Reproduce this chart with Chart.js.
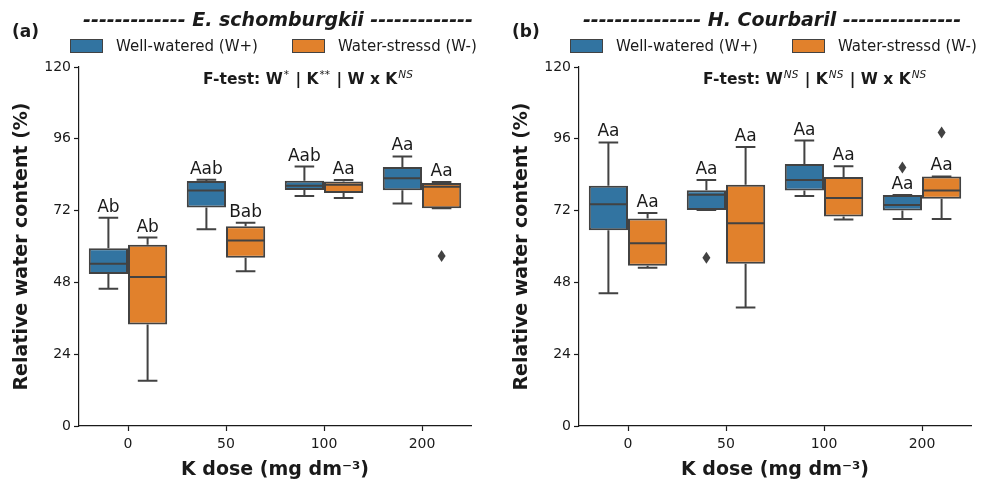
<!DOCTYPE html>
<html lang="en">
<head>
<meta charset="UTF-8">
<title>Relative water content by K dose</title>
<script src="https://cdn.jsdelivr.net/npm/chart.js"></script>
<style>
  body { margin: 0; background: #fff; }
  .panel { position: absolute; top: 0; height: 479px; }
  #panelA { left: 0; width: 500px; }
  #panelB { left: 500px; width: 481px; }
</style>
</head>
<body>
<div class="panel" id="panelA"><canvas id="chartA" width="500" height="479"></canvas></div>
<div class="panel" id="panelB"><canvas id="chartB" width="481" height="479"></canvas></div>
<script>
// categories and axis ticks
const kDoses = ['0', '50', '100', '200'];
const yTickValues = [0, 24, 48, 72, 96, 120];

// (a) E. schomburgkii - box stats
const wwLowA  = [45.9, 65.8, 76.9, 74.4];
const wwQ1A   = [50.8, 73.0, 78.9, 78.8];
const wwMedA  = [54.2, 78.7, 80.3, 82.8];
const wwQ3A   = [59.4, 81.9, 82.0, 86.6];
const wwHighA = [69.6, 82.3, 86.7, 90.1];
const wwOutA  = [[], [], [], []];
const wwLettersA = ['Ab', 'Aab', 'Aab', 'Aa'];

const wsLowA  = [15.1, 51.7, 76.2, 72.8];
const wsQ1A   = [33.9, 56.2, 77.9, 72.8];
const wsMedA  = [49.8, 62.0, 80.6, 80.0];
const wsQ3A   = [60.6, 66.8, 81.7, 81.2];
const wsHighA = [63.0, 67.9, 82.2, 81.6];
const wsOutA  = [[], [], [], [56.8]];
const wsLettersA = ['Ab', 'Bab', 'Aa', 'Aa'];

// (b) H. Courbaril
const wwLowB  = [44.4, 72.2, 76.9, 69.2];
const wwQ1B   = [65.4, 72.2, 78.7, 72.0];
const wwMedB  = [74.1, 77.3, 82.2, 73.9];
const wwQ3B   = [80.3, 78.8, 87.6, 77.2];
const wwHighB = [94.8, 82.2, 95.4, 77.2];
const wwOutB  = [[], [56.2], [], [86.4]];
const wwLettersB = ['Aa', 'Aa', 'Aa', 'Aa'];

const wsLowB  = [52.9, 39.6, 69.0, 69.2];
const wsQ1B   = [53.6, 54.2, 70.0, 76.0];
const wsMedB  = [61.1, 67.8, 76.2, 78.7];
const wsQ3B   = [69.4, 80.6, 83.2, 83.4];
const wsHighB = [71.2, 93.3, 86.8, 83.4];
const wsOutB  = [[], [], [], [98.1]];
const wsLettersB = ['Aa', 'Aa', 'Aa', 'Aa'];

const BLUE = '#3274a1';
const ORANGE = '#e1812c';
const LINE = '#424242';
const TEXT = '#1a1a1a';
const FONT = '"DejaVu Sans", sans-serif';

function boxDataset(label, color, low, q1, med, q3, high, out, letters) {
  return {
    label: label,
    data: q1.map((v, i) => [v, q3[i]]),
    backgroundColor: color,
    borderColor: LINE,
    borderWidth: 2,
    borderSkipped: false,
    categoryPercentage: 0.8,
    barPercentage: 1.0,
    low: low, med: med, high: high, out: out, letters: letters
  };
}

// whiskers, medians, outliers and letters on top of the floating bars
const whiskerPlugin = {
  id: 'whiskers',
  afterDatasetsDraw(chart) {
    const ctx = chart.ctx;
    const y = chart.scales.y;
    ctx.save();
    chart.data.datasets.forEach((ds, di) => {
      const meta = chart.getDatasetMeta(di);
      meta.data.forEach((bar, j) => {
        const x = bar.x, half = bar.width / 2, cap = bar.width / 4;
        const yLow = y.getPixelForValue(ds.low[j]);
        const yQ1 = y.getPixelForValue(ds.data[j][0]);
        const yQ3 = y.getPixelForValue(ds.data[j][1]);
        const yHigh = y.getPixelForValue(ds.high[j]);
        const yMed = y.getPixelForValue(ds.med[j]);
        ctx.strokeStyle = LINE;
        ctx.lineWidth = 2;
        ctx.beginPath();
        ctx.moveTo(x, yQ3); ctx.lineTo(x, yHigh);
        ctx.moveTo(x - cap, yHigh); ctx.lineTo(x + cap, yHigh);
        ctx.moveTo(x, yQ1); ctx.lineTo(x, yLow);
        ctx.moveTo(x - cap, yLow); ctx.lineTo(x + cap, yLow);
        ctx.moveTo(x - half + 1, yMed); ctx.lineTo(x + half - 1, yMed);
        ctx.stroke();

        ctx.fillStyle = LINE;
        ds.out[j].forEach(v => {
          const py = y.getPixelForValue(v);
          ctx.beginPath();
          ctx.moveTo(x, py - 6); ctx.lineTo(x + 4, py);
          ctx.lineTo(x, py + 6); ctx.lineTo(x - 4, py);
          ctx.closePath();
          ctx.fill();
        });

        ctx.fillStyle = TEXT;
        ctx.font = '17px ' + FONT;
        ctx.textAlign = 'center';
        ctx.textBaseline = 'alphabetic';
        ctx.fillText(ds.letters[j], x, yHigh - 6);
      });
    });
    ctx.restore();
  }
};

// bold text with small raised superscripts
function drawRich(ctx, x, y, parts) {
  parts.forEach(p => {
    if (p.sup) {
      ctx.font = (p.italic ? 'italic ' : '') + '10.5px ' + FONT;
      ctx.fillText(p.t, x + 1, y - 6);
      x += 2;
    } else {
      ctx.font = 'bold 15.5px ' + FONT;
      ctx.fillText(p.t, x, y);
    }
    x += ctx.measureText(p.t).width;
  });
}

// title, panel letter, legend and F-test line
function headerPlugin(cfg) {
  return {
    id: 'header',
    afterDraw(chart) {
      const ctx = chart.ctx;
      ctx.save();
      ctx.fillStyle = TEXT;
      ctx.textBaseline = 'alphabetic';
      ctx.textAlign = 'center';
      ctx.font = 'italic bold 19px ' + FONT;
      ctx.fillText(cfg.title, cfg.titleX, 26);

      ctx.textAlign = 'left';
      ctx.font = 'bold 17px ' + FONT;
      ctx.fillText(cfg.tag, 12, 37);

      chart.data.datasets.forEach((ds, i) => {
        const lx = cfg.legendX[i];
        ctx.fillStyle = ds.backgroundColor;
        ctx.fillRect(lx, 39, 32, 13);
        ctx.strokeStyle = LINE;
        ctx.lineWidth = 1;
        ctx.strokeRect(lx + 0.5, 39.5, 32, 13);
        ctx.fillStyle = TEXT;
        ctx.font = '15px ' + FONT;
        ctx.fillText(ds.label, lx + 46, 51);
      });

      drawRich(ctx, 203, 84, cfg.ftest);
      ctx.restore();
    }
  };
}

function buildPanel(canvasId, datasets, cfg) {
  const canvas = document.getElementById(canvasId);
  return new Chart(canvas, {
    type: 'bar',
    data: { labels: kDoses, datasets: datasets },
    options: {
      responsive: false,
      animation: false,
      layout: { padding: { left: 0, top: 67, right: canvas.width - 471, bottom: 0 } },
      plugins: { legend: { display: false }, tooltip: { enabled: false } },
      scales: {
        x: {
          offset: true,
          grid: { display: true, offset: false, drawOnChartArea: false, drawTicks: true, tickLength: 5, color: TEXT, tickWidth: 1.2 },
          border: { display: true, color: TEXT, width: 1.2 },
          ticks: { color: TEXT, font: { family: FONT, size: 14 }, padding: 5 },
          title: { display: true, text: 'K dose (mg dm\u207B\u00B3)', color: TEXT, font: { family: FONT, size: 19, weight: 'bold', lineHeight: 0.9 }, padding: { top: 0, bottom: 0 } },
          afterFit(scale) { scale.height = 479 - 426; }
        },
        y: {
          min: 0, max: 120,
          afterBuildTicks(scale) { scale.ticks = yTickValues.map(v => ({ value: v })); },
          grid: { display: true, drawOnChartArea: false, drawTicks: true, tickLength: 5, color: TEXT, tickWidth: 1.2 },
          border: { display: true, color: TEXT, width: 1.2 },
          ticks: { color: TEXT, font: { family: FONT, size: 14 }, padding: 3 },
          title: { display: true, text: 'Relative water content (%)', color: TEXT, font: { family: FONT, size: 19, weight: 'bold' }, padding: { top: 11, bottom: 0 } },
          afterFit(scale) { scale.width = 79; }
        }
      }
    },
    plugins: [whiskerPlugin, headerPlugin(cfg)]
  });
}

buildPanel('chartA', [
  boxDataset('Well-watered (W+)', BLUE, wwLowA, wwQ1A, wwMedA, wwQ3A, wwHighA, wwOutA, wwLettersA),
  boxDataset('Water-stressd (W-)', ORANGE, wsLowA, wsQ1A, wsMedA, wsQ3A, wsHighA, wsOutA, wsLettersA)
], {
  title: '------------- E. schomburgkii -------------',
  titleX: 278,
  tag: '(a)',
  legendX: [70, 292],
  ftest: [{ t: 'F-test: W' }, { t: '*', sup: true }, { t: ' | K' }, { t: '**', sup: true }, { t: ' | W x K' }, { t: 'NS', sup: true, italic: true }]
});

buildPanel('chartB', [
  boxDataset('Well-watered (W+)', BLUE, wwLowB, wwQ1B, wwMedB, wwQ3B, wwHighB, wwOutB, wwLettersB),
  boxDataset('Water-stressd (W-)', ORANGE, wsLowB, wsQ1B, wsMedB, wsQ3B, wsHighB, wsOutB, wsLettersB)
], {
  title: '--------------- H. Courbaril ---------------',
  titleX: 272,
  tag: '(b)',
  legendX: [70, 292],
  ftest: [{ t: 'F-test: W' }, { t: 'NS', sup: true, italic: true }, { t: ' | K' }, { t: 'NS', sup: true, italic: true }, { t: ' | W x K' }, { t: 'NS', sup: true, italic: true }]
});
</script>
</body>
</html>
